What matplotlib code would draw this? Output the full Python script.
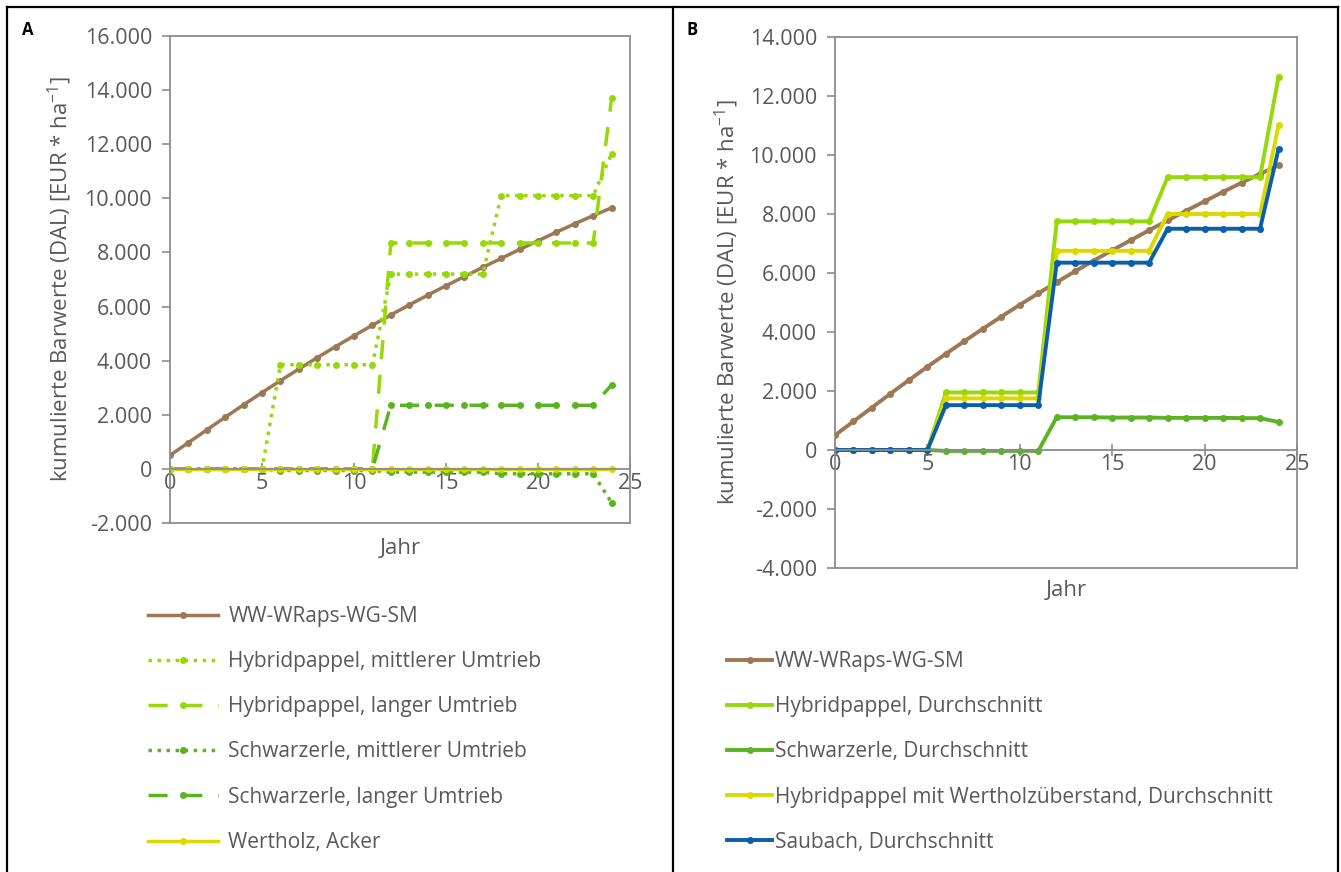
import matplotlib
matplotlib.use('Agg')
import matplotlib.pyplot as plt
from matplotlib.lines import Line2D
from matplotlib.ticker import FuncFormatter, MultipleLocator

plt.rcParams['font.family'] = ['Open Sans', 'DejaVu Sans']
plt.rcParams['mathtext.default'] = 'regular'

# Jahre 0..24
jahre = list(range(25))

# Panel A: kumulierte Barwerte je Variante
ww_wraps = [500, 970, 1440, 1910, 2370, 2820, 3260, 3690, 4110, 4520, 4920, 5310, 5690,
            6060, 6420, 6770, 7110, 7450, 7780, 8110, 8430, 8750, 9060, 9360, 9650]
hp_mittel = [0, 0, 0, 0, 0, 0, 3850, 3850, 3850, 3850, 3850, 3850, 7200,
             7200, 7200, 7200, 7200, 7200, 10100, 10100, 10100, 10100, 10100, 10100, 11650]
hp_lang = [0, 0, 0, 0, 0, 0, 0, 0, 0, 0, 0, 0, 8350,
           8350, 8350, 8350, 8350, 8350, 8350, 8350, 8350, 8350, 8350, 8350, 13700]
se_mittel = [0, 0, 0, 0, 0, 0, -60, -60, -60, -60, -60, -60, -120,
             -120, -120, -120, -120, -120, -180, -180, -180, -180, -180, -180, -1250]
se_lang = [0, 0, 0, 0, 0, 0, 0, 0, 0, 0, 0, 0, 2350,
           2350, 2350, 2350, 2350, 2350, 2350, 2350, 2350, 2350, 2350, 2350, 3100]
wertholz = [0, 0, 0, 0, 0, 0, 0, 0, 0, 0, 0, 0, 0,
            0, 0, 0, 0, 0, 0, 0, 0, 0, 0, 0, 0]

# Panel B: Durchschnittswerte
hp_avg = [0, 0, 0, 0, 0, 0, 1950, 1950, 1950, 1950, 1950, 1950, 7750,
          7750, 7750, 7750, 7750, 7750, 9250, 9250, 9250, 9250, 9250, 9250, 12650]
se_avg = [0, 0, 0, 0, 0, 0, -30, -30, -30, -30, -30, -30, 1110,
          1110, 1110, 1100, 1100, 1100, 1090, 1090, 1090, 1090, 1080, 1080, 950]
hpw_avg = [0, 0, 0, 0, 0, 0, 1750, 1750, 1750, 1750, 1750, 1750, 6750,
           6750, 6750, 6750, 6750, 6750, 8000, 8000, 8000, 8000, 8000, 8000, 11000]
saubach = [0, 0, 0, 0, 0, 0, 1520, 1520, 1520, 1520, 1520, 1520, 6350,
           6350, 6350, 6350, 6350, 6350, 7500, 7500, 7500, 7500, 7500, 7500, 10200]

labels_a = ['WW-WRaps-WG-SM', 'Hybridpappel, mittlerer Umtrieb', 'Hybridpappel, langer Umtrieb',
            'Schwarzerle, mittlerer Umtrieb', 'Schwarzerle, langer Umtrieb', 'Wertholz, Acker']
labels_b = ['WW-WRaps-WG-SM', 'Hybridpappel, Durchschnitt', 'Schwarzerle, Durchschnitt',
            'Hybridpappel mit Wertholzüberstand, Durchschnitt', 'Saubach, Durchschnitt']

BRAUN = '#9C7854'
HELLGRUEN = '#96D80A'
GRUEN = '#5AB422'
GELB = '#D9D900'
BLAU = '#0B5EAC'
GRAU = '#595959'
ACHSE = '#8C8C8C'

FS_TICK = 15.5
FS_LABEL = 16
FS_LEG = 15

ylabel = 'kumulierte Barwerte (DAL) [EUR * ha$^{-1}$]'


def tausender(v, pos):
    return f'{int(round(v)):,}'.replace(',', '.')


def achsen_stil(ax, ymin, ymax, jahr_y):
    ax.set_xlim(0, 25)
    ax.set_ylim(ymin, ymax)
    ax.yaxis.set_major_locator(MultipleLocator(2000))
    ax.xaxis.set_major_locator(MultipleLocator(5))
    ax.yaxis.set_major_formatter(FuncFormatter(tausender))
    for s in ['left', 'top', 'right', 'bottom']:
        ax.spines[s].set_color(ACHSE)
        ax.spines[s].set_linewidth(1.3)
    ax.spines['bottom'].set_position(('data', 0))
    # untere Rahmenlinie der Zeichenfläche
    ax.plot([0, 1], [0, 0], transform=ax.transAxes, color=ACHSE, lw=1.3, clip_on=False, zorder=1)
    ax.tick_params(axis='y', direction='out', length=6, width=1.2, color=ACHSE,
                   labelcolor=GRAU, labelsize=FS_TICK, pad=7)
    ax.tick_params(axis='x', direction='inout', length=8, width=1.2, color=ACHSE,
                   labelcolor=GRAU, labelsize=FS_TICK, pad=-1)
    ax.text(0.5, jahr_y, 'Jahr', transform=ax.transAxes, ha='center', va='center',
            fontsize=FS_LABEL, color=GRAU)


fig = plt.figure(figsize=(13.41, 8.72), dpi=100)
W, H = 1341, 872

axA = fig.add_axes([170 / W, 1 - 523 / H, 460 / W, 487 / H])
axB = fig.add_axes([835 / W, 1 - 568 / H, 462 / W, 531 / H])

kw = dict(marker='o', markersize=4, lw=2.5)
axA.plot(jahre, ww_wraps, color=BRAUN, label=labels_a[0], **kw)
axA.plot(jahre, hp_mittel, color=HELLGRUEN, ls=(0, (1, 1.6)), label=labels_a[1], **kw)
axA.plot(jahre, hp_lang, color=HELLGRUEN, ls=(0, (5.5, 4.5)), label=labels_a[2], **kw)
axA.plot(jahre, se_mittel, color=GRUEN, ls=(0, (1, 1.6)), label=labels_a[3], **kw)
axA.plot(jahre, se_lang, color=GRUEN, ls=(0, (5.5, 4.5)), label=labels_a[4], **kw)
axA.plot(jahre, wertholz, color=GELB, label=labels_a[5], **kw)
achsen_stil(axA, -2000, 16000, -0.052)
axA.text(-0.239, 0.5, ylabel, transform=axA.transAxes, rotation=90, ha='center', va='center',
         fontsize=FS_LABEL, color=GRAU)

kwb = dict(marker='o', markersize=4, lw=2.8)
axB.plot(jahre, ww_wraps, color=BRAUN, label=labels_b[0], **kwb)
axB.plot(jahre, hp_avg, color=HELLGRUEN, label=labels_b[1], **kwb)
axB.plot(jahre, se_avg, color=GRUEN, label=labels_b[2], **kwb)
axB.plot(jahre, hpw_avg, color=GELB, label=labels_b[3], **kwb)
axB.plot(jahre, saubach, color=BLAU, label=labels_b[4], **kwb)
achsen_stil(axB, -4000, 14000, -0.043)
axB.text(-0.234, 0.5, ylabel, transform=axB.transAxes, rotation=90, ha='center', va='center',
         fontsize=FS_LABEL, color=GRAU)

# Legenden unter den Diagrammen
hA, lA = axA.get_legend_handles_labels()
fig.legend(hA, lA, loc='upper left', bbox_to_anchor=(148 / W, 1 - 606 / H),
           frameon=False, fontsize=FS_LEG, labelcolor=GRAU, handlelength=3.37,
           handletextpad=0.48, labelspacing=1.16, borderpad=0, borderaxespad=0,
           numpoints=1)
hB, lB = axB.get_legend_handles_labels()
fig.legend(hB, lB, loc='upper left', bbox_to_anchor=(727 / W, 1 - 651 / H),
           frameon=False, fontsize=FS_LEG, labelcolor=GRAU, handlelength=2.16,
           handletextpad=0.15, labelspacing=1.16, borderpad=0, borderaxespad=0,
           numpoints=1)

# Panelbuchstaben
fig.text(22 / W, 1 - 30 / H, 'A', fontsize=12, fontweight='bold', ha='left', va='center')
fig.text(686 / W, 1 - 30 / H, 'B', fontsize=12, fontweight='bold', ha='left', va='center')

# Rahmen um die Panels
rahmen = dict(color='black', lw=1.6, transform=fig.transFigure)
fig.add_artist(Line2D([7 / W, 1338 / W], [1 - 7 / H, 1 - 7 / H], **rahmen))
fig.add_artist(Line2D([7 / W, 7 / W], [0, 1 - 7 / H], **rahmen))
fig.add_artist(Line2D([1338 / W, 1338 / W], [0, 1 - 7 / H], **rahmen))
fig.add_artist(Line2D([673 / W, 673 / W], [0, 1 - 7 / H], **rahmen))

fig.savefig('out.png', dpi=100)
